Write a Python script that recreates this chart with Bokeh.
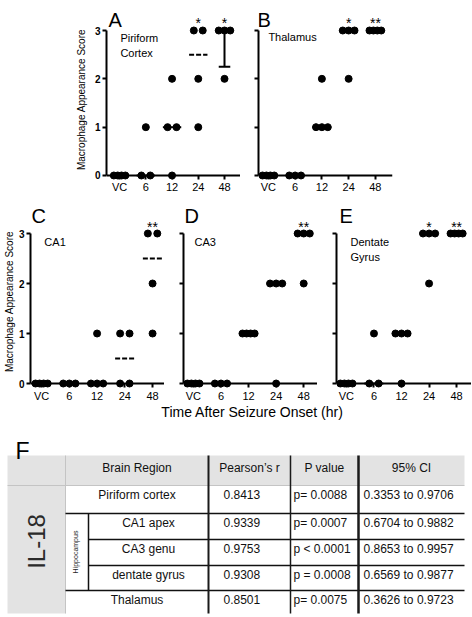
import numpy as np
from bokeh.plotting import figure
from bokeh.layouts import column, row
from bokeh.models import Range1d, FixedTicker, LinearAxis
from bokeh.embed import file_html
from bokeh.resources import INLINE
from bokeh.core.properties import value

FONT = "Liberation Sans"

# ---------------- data ----------------
times = ["VC", "6", "12", "24", "48"]

piriform = [[0, 0, 0, 0], [1, 0, 0], [2, 1, 1, 0], [3, 3, 2, 1], [3, 3, 3, 2]]
thalamus = [[0, 0, 0, 0], [0, 0, 0], [2, 1, 1, 1], [3, 3, 3, 2], [3, 3, 3, 3]]
ca1 = [[0, 0, 0, 0], [0, 0, 0], [1, 0, 0, 0], [1, 1, 0, 0], [3, 3, 2, 1]]
ca3 = [[0, 0, 0, 0], [0, 0, 0], [1, 1, 1, 1], [2, 2, 2, 0], [3, 3, 3, 2]]
dentate = [[0, 0, 0, 0], [1, 0, 0], [1, 1, 1, 0], [3, 3, 3, 2], [3, 3, 3, 3]]

stars_piriform = ["", "", "", "*", "*"]
stars_thalamus = ["", "", "", "*", "**"]
stars_ca1 = ["", "", "", "", "**"]
stars_ca3 = ["", "", "", "", "**"]
stars_dentate = ["", "", "", "*", "**"]

piriform_whisker_time = ["48"]
piriform_whisker_low = [2.25]
piriform_whisker_high = [3.0]

panel_letters = ["A", "B", "C", "D", "E"]
region_names = ["Piriform\nCortex", "Thalamus", "CA1", "CA3", "Dentate\nGyrus"]
y_ticks = [0, 1, 2, 3]
y_title = "Macrophage Appearance Score"
x_title = "Time After Seizure Onset (hr)"

table_letter = "F"
table_header = ["Brain Region", "Pearson\u2019s r", "P value", "95% CI"]
table_marker = "IL-18"
table_group = "Hippocampus"
table_regions = ["Piriform cortex", "CA1 apex", "CA3 genu", "dentate gyrus", "Thalamus"]
table_in_group = [False, True, True, True, False]
table_r = ["0.8413", "0.9339", "0.9753", "0.9308", "0.8501"]
table_p = ["p= 0.0088", "p= 0.0007", "p < 0.0001", "p = 0.0008", "p= 0.0075"]
table_ci = ["0.3353 to 0.9706", "0.6704 to 0.9882", "0.8653 to 0.9957",
            "0.6569 to 0.9877", "0.3626 to 0.9723"]


# ---------------- helpers ----------------
def spread(vals):
    counts = {}
    for v in vals:
        counts[v] = counts.get(v, 0) + 1
    seen = {}
    offs = []
    for v in vals:
        n = counts[v]
        k = seen.get(v, 0)
        seen[v] = k + 1
        if n == 1:
            offs.append(0.0)
        else:
            half = min(0.17 * (n - 1), 0.22)
            offs.append(-half + 2 * half * k / (n - 1))
    return offs


def make_panel(groups, stars, letter, region, region_xy, xr, yr,
               frame_w, frame_h, border_left, border_right,
               show_ylabels, letter_xy, star_y, ytitle=None, ytitle_standoff=2,
               whisker=None):
    p = figure(frame_width=frame_w, frame_height=frame_h,
               x_range=Range1d(*xr), y_range=Range1d(*yr),
               x_axis_type=None, y_axis_type=None,
               output_backend="svg", toolbar_location=None,
               min_border_left=border_left, min_border_right=border_right,
               min_border_top=0, min_border_bottom=0)
    p.outline_line_color = None
    p.background_fill_color = "white"
    p.border_fill_color = "white"

    xa = LinearAxis(ticker=FixedTicker(ticks=list(range(len(times)))),
                    major_label_overrides={i: t for i, t in enumerate(times)},
                    fixed_location=0)
    xa.axis_line_width = 2
    xa.axis_line_color = "black"
    xa.major_tick_line_width = 2
    xa.major_tick_line_color = "black"
    xa.major_tick_in = 0
    xa.major_tick_out = 4
    xa.minor_tick_line_color = None
    xa.major_label_standoff = 2
    xa.major_label_text_font = FONT
    xa.major_label_text_font_size = "11px"
    xa.major_label_text_color = "black"
    p.add_layout(xa, "below")

    ya = LinearAxis(ticker=FixedTicker(ticks=y_ticks), bounds=(0, 3))
    ya.axis_line_width = 2
    ya.axis_line_color = "black"
    ya.major_tick_line_width = 2
    ya.major_tick_line_color = "black"
    ya.major_tick_in = 0
    ya.major_tick_out = 4
    ya.minor_tick_line_color = None
    ya.major_label_standoff = 2
    ya.major_label_text_font = FONT
    ya.major_label_text_font_style = "bold"
    ya.major_label_text_font_size = "10px"
    ya.major_label_text_color = "black" if show_ylabels else None
    if ytitle:
        ya.axis_label = ytitle
        ya.axis_label_text_font = FONT
        ya.axis_label_text_font_size = "10px"
        ya.axis_label_text_font_style = "normal"
        ya.axis_label_text_color = "black"
        ya.axis_label_standoff = ytitle_standoff
    p.add_layout(ya, "left")

    # medians
    mx0, mx1, my = [], [], []
    for i, g in enumerate(groups):
        m = float(np.median(g))
        mx0.append(i - 0.35)
        mx1.append(i + 0.35)
        my.append(m)
    p.segment(x0=mx0, y0=my, x1=mx1, y1=my, line_color="black",
              line_width=2, line_dash="5 2")

    if whisker is not None:
        wt, wl, wh = whisker
        wx = [times.index(t) for t in wt]
        p.segment(x0=wx, y0=wl, x1=wx, y1=wh, line_color="black", line_width=2)
        p.segment(x0=[x - 0.22 for x in wx], y0=wl, x1=[x + 0.22 for x in wx],
                  y1=wl, line_color="black", line_width=2)
        p.segment(x0=[x - 0.22 for x in wx], y0=wh, x1=[x + 0.22 for x in wx],
                  y1=wh, line_color="black", line_width=2)

    xs, ys = [], []
    for i, g in enumerate(groups):
        for off, v in zip(spread(g), g):
            xs.append(i + off)
            ys.append(v)
    p.scatter(x=xs, y=ys, size=7, color="black")

    sx = [i for i, s in enumerate(stars) if s]
    st = [s for s in stars if s]
    p.text(x=sx, y=[star_y] * len(sx), text=st,
           text_font=value(FONT), text_font_size="14px", text_color="black",
           text_align="center", text_baseline="alphabetic")

    p.text(x=[letter_xy[0]], y=[letter_xy[1]], text=[letter],
           text_font=value(FONT), text_font_size="20px", text_color="black",
           text_align="left", text_baseline="alphabetic")

    p.text(x=[region_xy[0]], y=[region_xy[1]], text=[region],
           text_font=value(FONT), text_font_size="11px", text_color="black",
           text_align="left", text_baseline="top", text_line_height=1.25)
    return p


# ---------------- panels ----------------
# row 1: frame 198 px tall (page y 0..198)
pA = make_panel(piriform, stars_piriform, panel_letters[0], region_names[0],
                (0.03, 2.96), (-0.5, 4.61), (-0.476, 3.621), 134, 198, 106, 0,
                True, (-0.42, 3.21), 3.165, ytitle=y_title, ytitle_standoff=5,
                whisker=(piriform_whisker_time, piriform_whisker_low,
                         piriform_whisker_high))
pB = make_panel(thalamus, stars_thalamus, panel_letters[1], region_names[1],
                (0.0, 3.0), (-0.37, 4.64), (-0.476, 3.621), 134, 198, 18, 78,
                False, (-0.41, 3.21), 3.165)

# row 2: frame 206 px tall (page y 198..404)
pC = make_panel(ca1, stars_ca1, panel_letters[2], region_names[2],
                (0.1, 2.96), (-0.4, 4.43), (-0.42, 3.70), 134, 206, 29, 0,
                True, (-0.36, 3.36), 3.14, ytitle=y_title, ytitle_standoff=1)
pD = make_panel(ca3, stars_ca3, panel_letters[3], region_names[3],
                (0.04, 2.96), (-0.36, 4.5), (-0.42, 3.70), 134, 206, 19, 0,
                False, (-0.32, 3.36), 3.14)
pE = make_panel(dentate, stars_dentate, panel_letters[4], region_names[4],
                (0.15, 2.96), (-0.36, 4.54), (-0.42, 3.70), 135, 206, 19, 0,
                False, (-0.25, 3.36), 3.14)

# ---------------- x title + table ----------------
TW, TH = 470, 211
t = figure(frame_width=TW, frame_height=TH, x_range=Range1d(0, TW),
           y_range=Range1d(0, TH), x_axis_type=None, y_axis_type=None,
           output_backend="svg", toolbar_location=None, min_border=0)
t.outline_line_color = None
t.grid.visible = False


def Y(v):
    return TH - v


# shared x-axis title under panels C-E
t.text(x=[252], y=[Y(7)], text=[x_title], text_font=value(FONT),
       text_font_size="14px", text_color="black", text_align="center",
       text_baseline="middle")

col_edges = [7, 65, 88, 208, 290, 358, 464]
row_edges = [51, 81, 109, 135, 161, 186, 209]
gray = "#e3e3e3"

# backgrounds
t.quad(left=[col_edges[0], col_edges[0]], right=[col_edges[-1], col_edges[1]],
       top=[Y(row_edges[0]), Y(row_edges[1])],
       bottom=[Y(row_edges[1]), Y(row_edges[-1])],
       fill_color=gray, line_color=None)

# light grid lines
t.segment(x0=[col_edges[0], col_edges[1]], y0=[Y(row_edges[1]), Y(row_edges[0])],
          x1=[col_edges[-1], col_edges[1]], y1=[Y(row_edges[1]), Y(row_edges[-1])],
          line_color="#c4c4c4", line_width=1)

# row separators
sx0, sy = [], []
for i in range(len(table_regions) - 1):
    inner = table_in_group[i] and table_in_group[i + 1]
    sx0.append(col_edges[2] if inner else col_edges[1])
    sy.append(Y(row_edges[i + 2]))
t.segment(x0=sx0, y0=sy, x1=[col_edges[-1]] * len(sx0), y1=sy,
          line_color="#111111", line_width=1.5)

# hippocampus group vertical
gi = [i for i, g in enumerate(table_in_group) if g]
t.segment(x0=[col_edges[2]], y0=[Y(row_edges[gi[0] + 1])], x1=[col_edges[2]],
          y1=[Y(row_edges[gi[-1] + 2])], line_color="#111111", line_width=1.5)

# column separators
t.segment(x0=col_edges[3:6], y0=[Y(row_edges[0])] * 3, x1=col_edges[3:6],
          y1=[Y(row_edges[-1])] * 3, line_color="#1a1a1a",
          line_width=[2, 1.5, 2.5])

# letter F
t.text(x=[15], y=[Y(46)], text=[table_letter], text_font=value(FONT),
       text_font_size="23px", text_color="black", text_baseline="alphabetic")

# header
hx = [(col_edges[1] + col_edges[3]) / 2, (col_edges[3] + col_edges[4]) / 2,
      (col_edges[4] + col_edges[5]) / 2, (col_edges[5] + col_edges[6]) / 2]
hy = Y(row_edges[0] + 12)
t.text(x=hx, y=[hy] * 4, text=table_header, text_font=value(FONT),
       text_font_size="12px", text_color="#111111", text_align="center",
       text_baseline="middle")

# marker + group labels (rotated)
t.text(x=[36], y=[Y((row_edges[1] + row_edges[-1]) / 2 - 8)], text=[table_marker],
       angle=np.pi / 2, text_font=value(FONT), text_font_size="24px",
       text_color="#2a2a2a", text_align="center", text_baseline="middle")
t.text(x=[(col_edges[1] + col_edges[2]) / 2 - 1.5],
       y=[Y((row_edges[gi[0] + 1] + row_edges[gi[-1] + 2]) / 2)],
       text=[table_group], angle=np.pi / 2, text_font=value(FONT),
       text_font_size="7px", text_color="#222222", text_align="center",
       text_baseline="middle")

# rows
rx, ry = [], []
for i, g in enumerate(table_in_group):
    if g:
        rx.append((col_edges[2] + col_edges[3]) / 2)
    else:
        rx.append((col_edges[1] + col_edges[3]) / 2)
    ry.append(Y(row_edges[i + 1] + 9))
t.text(x=rx, y=ry, text=table_regions, text_font=value(FONT),
       text_font_size="12px", text_color="#111111", text_align="center",
       text_baseline="middle")
t.text(x=[col_edges[3] + 15] * 5, y=ry, text=table_r, text_font=value(FONT),
       text_font_size="12px", text_color="#111111", text_align="left",
       text_baseline="middle")
t.text(x=[col_edges[4] + 3] * 5, y=ry, text=table_p, text_font=value(FONT),
       text_font_size="12px", text_color="#111111", text_align="left",
       text_baseline="middle")
t.text(x=[col_edges[5] + 5] * 5, y=ry, text=table_ci, text_font=value(FONT),
       text_font_size="12px", text_color="#111111", text_align="left",
       text_baseline="middle")

layout = column(row(pA, pB), row(pC, pD, pE), t)
open("out.html", "w").write(file_html(layout, INLINE))
